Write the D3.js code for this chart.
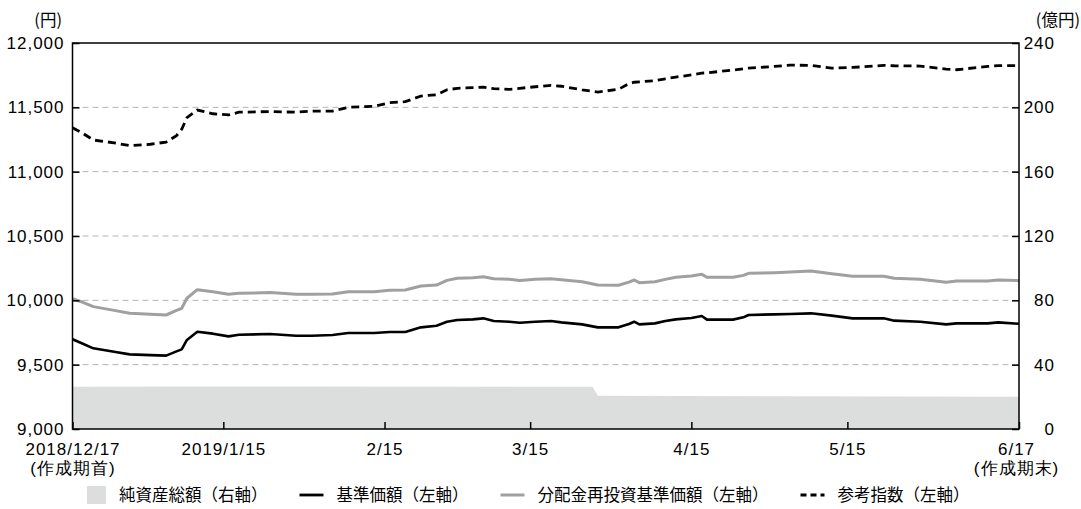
<!DOCTYPE html>
<html>
<head>
<meta charset="utf-8">
<script src="https://cdn.jsdelivr.net/npm/d3@7"></script>
<style>
  html, body { margin: 0; padding: 0; background: #fff; }
  svg { display: block; font-family: "Noto Sans CJK JP", "Noto Sans", sans-serif; }
  .axis text { font-size: 17px; fill: #000; letter-spacing: 1px; }
</style>
</head>
<body>
<div id="chart"></div>
<script>
// Fund NAV chart, two y axes (円 left, 億円 right)

const dates = ["2018-12-17","2018-12-19","2018-12-21","2018-12-25","2018-12-28","2019-01-01","2019-01-04","2019-01-06","2019-01-07","2019-01-08","2019-01-10","2019-01-13","2019-01-16","2019-01-18","2019-01-24","2019-01-29","2019-02-01","2019-02-05","2019-02-08","2019-02-13","2019-02-16","2019-02-19","2019-02-22","2019-02-25","2019-02-27","2019-03-01","2019-03-04","2019-03-06","2019-03-08","2019-03-11","2019-03-13","2019-03-16","2019-03-19","2019-03-21","2019-03-25","2019-03-28","2019-04-01","2019-04-03","2019-04-04","2019-04-05","2019-04-08","2019-04-10","2019-04-12","2019-04-15","2019-04-17","2019-04-18","2019-04-23","2019-04-25","2019-04-26","2019-05-01","2019-05-04","2019-05-08","2019-05-12","2019-05-16","2019-05-22","2019-05-24","2019-05-29","2019-06-03","2019-06-05","2019-06-11","2019-06-13","2019-06-17"];

// 基準価額
const navValues = [9697,9663,9627,9600,9580,9574,9570,9603,9619,9692,9756,9741,9720,9733,9738,9725,9725,9731,9746,9746,9754,9754,9790,9803,9834,9847,9852,9860,9839,9834,9826,9834,9839,9829,9813,9790,9790,9816,9834,9813,9821,9839,9852,9863,9878,9850,9850,9868,9886,9891,9894,9899,9881,9860,9860,9842,9834,9813,9821,9821,9829,9818];

// 分配金再投資基準価額
const reinvValues = [10012,9985,9951,9922,9899,9892,9886,9921,9938,10016,10083,10067,10047,10055,10060,10047,10047,10049,10067,10067,10078,10080,10111,10119,10155,10171,10176,10184,10168,10163,10155,10163,10168,10160,10145,10119,10117,10142,10158,10137,10145,10163,10179,10189,10202,10179,10179,10194,10210,10215,10220,10228,10207,10187,10187,10171,10163,10140,10150,10150,10158,10153];

// 参考指数
const refValues = [11342,11298,11246,11224,11202,11213,11230,11280,11330,11420,11479,11450,11441,11462,11467,11462,11471,11471,11500,11508,11536,11544,11588,11598,11636,11648,11653,11657,11645,11640,11648,11660,11670,11664,11636,11619,11640,11685,11695,11698,11707,11722,11735,11752,11766,11768,11790,11800,11805,11818,11828,11826,11805,11810,11826,11823,11821,11797,11792,11818,11824,11824];

// 純資産総額 (億円)
const assetDates = ["2018-12-17","2019-01-10","2019-03-27","2019-03-28","2019-05-01","2019-06-17"];
const assetValues = [26.2, 26.4, 26.3, 20.6, 20.3, 20.1];

const leftTicks = [9000, 9500, 10000, 10500, 11000, 11500, 12000];
const rightTicks = [0, 40, 80, 120, 160, 200, 240];
const xTickDates = ["2018-12-17","2019-01-15","2019-02-15","2019-03-15","2019-04-15","2019-05-15","2019-06-17"];
const xTickLabels = [["2018/12/17","(作成期首)"],["2019/1/15"],["2/15"],["3/15"],["4/15"],["5/15"],["6/17","(作成期末)"]];

const legendLabels = ["純資産総額（右軸）","基準価額（左軸）","分配金再投資基準価額（左軸）","参考指数（左軸）"];

const W = 1081, H = 509;
const margin = { top: 43, right: 62, bottom: 80, left: 72.5 };
const parse = d3.timeParse("%Y-%m-%d");

const svg = d3.select("#chart").append("svg").attr("width", W).attr("height", H);

const x = d3.scaleTime()
  .domain([parse("2018-12-17"), parse("2019-06-17")])
  .range([margin.left, W - margin.right]);
const yL = d3.scaleLinear().domain([9000, 12000]).range([H - margin.bottom, margin.top]);
const yR = d3.scaleLinear().domain([0, 240]).range([H - margin.bottom, margin.top]);

const x0 = margin.left, x1 = W - margin.right, yTop = margin.top, yBot = H - margin.bottom;

// net assets area
const assets = assetDates.map((d, i) => ({ date: parse(d), v: assetValues[i] }));
svg.append("path")
  .datum(assets)
  .attr("fill", "#dcdddd")
  .attr("d", d3.area().x(d => x(d.date)).y0(yBot).y1(d => yR(d.v)));

// gridlines
svg.append("g").selectAll("line")
  .data(leftTicks.filter(t => t > 9000 && t < 12000))
  .join("line")
  .attr("x1", x0).attr("x2", x1)
  .attr("y1", d => yL(d)).attr("y2", d => yL(d))
  .attr("stroke", "#b4b4b4").attr("stroke-width", 1)
  .attr("stroke-dasharray", "6,4");

// series
const rows = dates.map((d, i) => ({ date: parse(d), nav: navValues[i], reinv: reinvValues[i], ref: refValues[i] }));
const lineOf = key => d3.line().x(d => x(d.date)).y(d => yL(d[key]));

svg.append("path").datum(rows)
  .attr("fill", "none").attr("stroke", "#a0a0a0").attr("stroke-width", 3)
  .attr("stroke-linejoin", "round")
  .attr("d", lineOf("reinv"));

svg.append("path").datum(rows)
  .attr("fill", "none").attr("stroke", "#000").attr("stroke-width", 2.6)
  .attr("stroke-linejoin", "round")
  .attr("d", lineOf("nav"));

svg.append("path").datum(rows)
  .attr("fill", "none").attr("stroke", "#000").attr("stroke-width", 2.8)
  .attr("stroke-dasharray", "8,5")
  .attr("d", lineOf("ref"));

// axes
const gL = svg.append("g").attr("class", "axis").attr("transform", `translate(${x0},0)`)
  .call(d3.axisLeft(yL).tickValues(leftTicks).tickSize(-7).tickSizeOuter(0).tickPadding(8).tickFormat(d3.format(",")));
gL.select(".domain").remove();
gL.selectAll(".tick line").attr("stroke-width", 1.5);

const gR = svg.append("g").attr("class", "axis").attr("transform", `translate(${x1},0)`)
  .call(d3.axisRight(yR).tickValues(rightTicks).tickSize(-7).tickSizeOuter(0));
gR.select(".domain").remove();
gR.selectAll(".tick line").attr("stroke-width", 1.5);
gR.selectAll(".tick text").attr("text-anchor", "end").attr("x", 36);

const gX = svg.append("g").attr("class", "axis").attr("transform", `translate(0,${yBot})`)
  .call(d3.axisBottom(x).tickValues(xTickDates.map(parse)).tickSize(-7).tickSizeOuter(0).tickFormat(""));
gX.select(".domain").remove();
gX.selectAll(".tick line").attr("stroke-width", 1.5);
gX.selectAll(".tick").each(function (d, i) {
  const t = d3.select(this).append("text")
    .attr("fill", "#000").attr("text-anchor", "middle").attr("y", 26);
  xTickLabels[i].forEach((s, j) => {
    t.append("tspan").attr("x", i === xTickLabels.length - 1 ? -3 : 0).attr("dy", j === 0 ? 0 : 19).text(s);
  });
});

// frame
svg.append("rect")
  .attr("x", x0).attr("y", yTop).attr("width", x1 - x0).attr("height", yBot - yTop)
  .attr("fill", "none").attr("stroke", "#000").attr("stroke-width", 1.5);

// units
svg.append("text").attr("x", 62).attr("y", 26).attr("text-anchor", "end")
  .attr("font-size", 16.5).text("(円)");
svg.append("text").attr("x", 1080).attr("y", 26).attr("text-anchor", "end")
  .attr("font-size", 16.5).text("(億円)");

// legend
const legend = svg.append("g").attr("transform", "translate(87,495)");
let lx = 0;
legendLabels.forEach((label, i) => {
  const g = legend.append("g").attr("transform", `translate(${lx},0)`);
  if (i === 0) {
    g.append("rect").attr("x", 0).attr("y", -9).attr("width", 19).attr("height", 18).attr("fill", "#dcdddd");
  } else {
    const ln = g.append("line").attr("x1", 0).attr("x2", 24).attr("y1", 0).attr("y2", 0)
      .attr("stroke", i === 2 ? "#a0a0a0" : "#000")
      .attr("stroke-width", i === 2 ? 3 : 2.8);
    if (i === 3) ln.attr("stroke-dasharray", "6,4");
  }
  const symW = i === 0 ? 19 : 24;
  const txt = g.append("text").attr("x", symW + 13).attr("y", 6)
    .attr("font-size", 16.5).text(label);
  lx += symW + 13 + txt.node().getComputedTextLength() + 32;
});
</script>
</body>
</html>
